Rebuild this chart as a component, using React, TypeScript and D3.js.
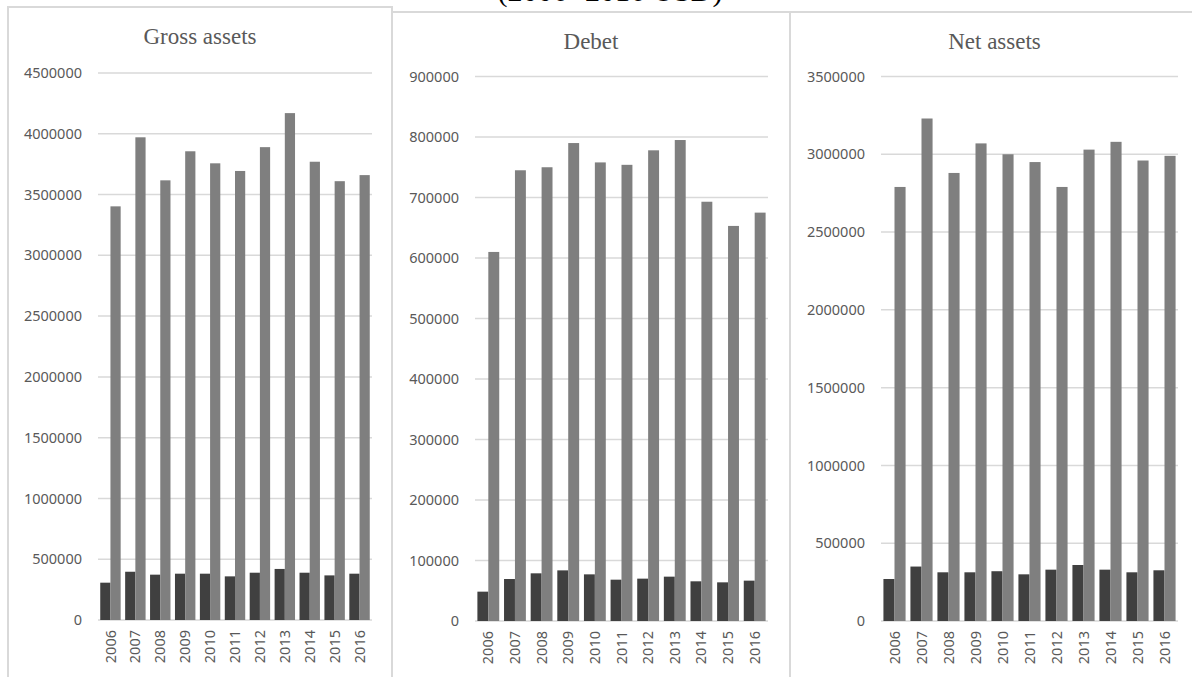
import React from "react";
import * as d3 from "d3";

const years = ["2006", "2007", "2008", "2009", "2010", "2011", "2012", "2013", "2014", "2015", "2016"];

const grossLow = [307000, 397000, 373000, 381000, 381000, 359000, 389000, 420000, 389000, 367000, 381000];
const grossHigh = [3403000, 3971000, 3617000, 3856000, 3757000, 3694000, 3890000, 4170000, 3770000, 3610000, 3660000];

const debetLow = [48500, 69400, 78800, 83700, 77100, 68300, 70000, 73300, 65600, 63900, 66700];
const debetHigh = [610000, 745000, 750000, 790000, 758000, 754000, 778000, 795000, 693000, 653000, 675000];

const netLow = [270000, 350000, 313000, 313000, 320000, 300000, 330000, 360000, 330000, 313000, 326000];
const netHigh = [2790000, 3230000, 2880000, 3070000, 3000000, 2950000, 2790000, 3030000, 3080000, 2960000, 2990000];

const grossTicks = [0, 500000, 1000000, 1500000, 2000000, 2500000, 3000000, 3500000, 4000000, 4500000];
const debetTicks = [0, 100000, 200000, 300000, 400000, 500000, 600000, 700000, 800000, 900000];
const netTicks = [0, 500000, 1000000, 1500000, 2000000, 2500000, 3000000, 3500000];

const pageTitle = "(2006- 2016 USD)";

const DARK = "#404040";
const LIGHT = "#7f7f7f";
const GRID = "#d9d9d9";
const TEXT = "#595959";

interface IPanelProps {
  title: string;
  low: number[];
  high: number[];
  ticks: number[];
  // frame
  x0: number;
  x1: number;
  top: number;
  // plot area
  left: number;
  right: number;
  yTop: number;
  yBottom: number;
}

const Panel = (props: IPanelProps) => {
  const max = props.ticks[props.ticks.length - 1];
  const y = d3.scaleLinear().domain([0, max]).range([props.yBottom, props.yTop]);
  const x = d3
    .scaleBand<string>()
    .domain(years)
    .range([props.left, props.right])
    .paddingInner(0.18)
    .paddingOuter(0.09);
  const inner = d3.scaleBand<string>().domain(["low", "high"]).range([0, x.bandwidth()]);

  return (
    <g>
      {/* frame */}
      <path
        d={`M${props.x0},700 V${props.top} H${props.x1} V700`}
        fill="none"
        stroke={GRID}
        strokeWidth={2}
      />
      <text
        x={(props.x0 + props.x1) / 2}
        y={props.top + 37}
        textAnchor="middle"
        fontFamily="'Liberation Serif', 'Times New Roman', serif"
        fontSize={23}
        fill={TEXT}
      >
        {props.title}
      </text>
      {props.ticks.map((t) => (
        <g key={t}>
          <line x1={props.left} x2={props.right} y1={y(t)} y2={y(t)} stroke={GRID} strokeWidth={1.5} />
          <text
            x={props.left - 16}
            y={y(t)}
            dy="0.35em"
            textAnchor="end"
            fontFamily="'Noto Sans', sans-serif"
            fontSize={14.5}
            fill={TEXT}
          >
            {t}
          </text>
        </g>
      ))}
      {years.map((yr, i) => (
        <g key={yr}>
          <rect
            x={(x(yr) as number) + (inner("low") as number)}
            y={y(props.low[i])}
            width={inner.bandwidth()}
            height={y(0) - y(props.low[i])}
            fill={DARK}
          />
          <rect
            x={(x(yr) as number) + (inner("high") as number)}
            y={y(props.high[i])}
            width={inner.bandwidth()}
            height={y(0) - y(props.high[i])}
            fill={LIGHT}
          />
          <text
            transform={`translate(${(x(yr) as number) + x.bandwidth() / 2},${props.yBottom + 10}) rotate(-90)`}
            dy="0.35em"
            textAnchor="end"
            fontFamily="'Noto Sans', sans-serif"
            fontSize={14.5}
            fill={TEXT}
          >
            {yr}
          </text>
        </g>
      ))}
    </g>
  );
};

const App = () => {
  return (
    <svg
      width={1192}
      height={677}
      style={{ position: "absolute", left: 0, top: 0, background: "#fff" }}
    >
      <rect width={1192} height={677} fill="#fff" />
      {/* page heading, mostly cropped off at the top as in the source */}
      <text
        x={610}
        y={1}
        textAnchor="middle"
        fontFamily="'Liberation Serif', 'Times New Roman', serif"
        fontSize={30}
        fill="#000"
      >
        {pageTitle}
      </text>
      <Panel
        title="Gross assets"
        low={grossLow}
        high={grossHigh}
        ticks={grossTicks}
        x0={8}
        x1={392}
        top={7}
        left={98}
        right={372}
        yTop={73}
        yBottom={620}
      />
      <Panel
        title="Debet"
        low={debetLow}
        high={debetHigh}
        ticks={debetTicks}
        x0={392}
        x1={790}
        top={12}
        left={475}
        right={768}
        yTop={76.5}
        yBottom={621}
      />
      <Panel
        title="Net assets"
        low={netLow}
        high={netHigh}
        ticks={netTicks}
        x0={790}
        x1={1199}
        top={12}
        left={881}
        right={1178}
        yTop={76.5}
        yBottom={621}
      />
    </svg>
  );
};

export default App;
